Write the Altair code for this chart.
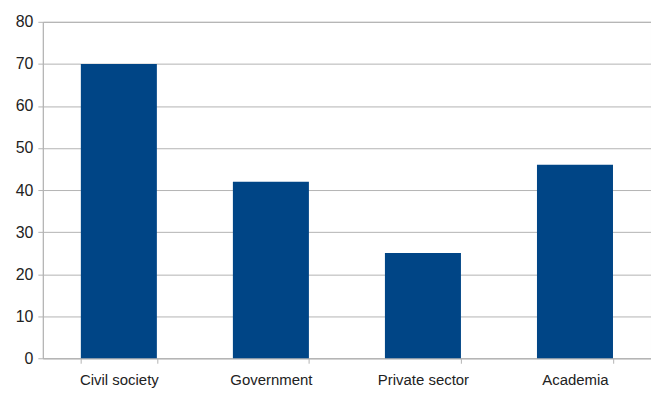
import altair as alt
import pandas as pd

categories = ["Civil society", "Government", "Private sector", "Academia"]
values = [70, 42, 25, 46]

df = pd.DataFrame({"category": categories, "value": values})

font = "Liberation Sans"
grid_color = "#b3b3b3"

chart = alt.Chart(df).mark_bar(color="#004586").encode(
    x=alt.X(
        "category:N",
        sort=categories,
        title=None,
        scale=alt.Scale(paddingInner=0.5, paddingOuter=0.25),
        axis=alt.Axis(
            labelAngle=0,
            tickBand="extent",
            domainColor=grid_color,
            tickColor=grid_color,
            tickSize=5,
            labelFontSize=15,
            labelFont=font,
            labelColor="#222222",
            labelPadding=9,
            grid=False,
        ),
    ),
    y=alt.Y(
        "value:Q",
        title=None,
        scale=alt.Scale(domain=[0, 80], nice=False),
        axis=alt.Axis(
            values=list(range(0, 81, 10)),
            gridColor=grid_color,
            domainColor=grid_color,
            tickColor=grid_color,
            tickSize=5,
            labelFontSize=16,
            labelFont=font,
            labelColor="#222222",
            labelPadding=5,
        ),
    ),
).properties(
    width=611,
    height=338,
    padding={"left": 35, "top": 13, "right": 0, "bottom": 32},
    autosize=alt.AutoSizeParams(type="none"),
).configure_view(stroke=grid_color)

chart.save("out.html", embed_options={"renderer": "svg", "actions": False})
